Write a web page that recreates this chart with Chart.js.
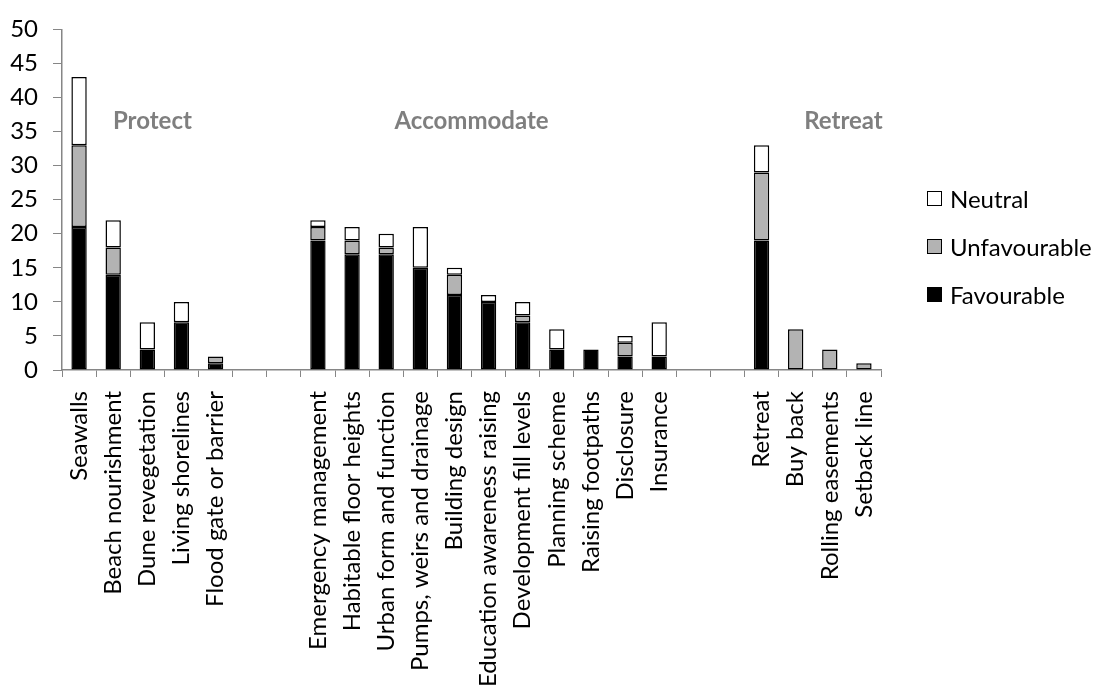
<!DOCTYPE html>
<html>
<head>
<meta charset="utf-8">
<script src="https://cdn.jsdelivr.net/npm/chart.js@4.4.0/dist/chart.umd.min.js"></script>
<style>
  body { margin: 0; background: #fff; }
  #wrap { position: relative; width: 1098px; height: 689px; overflow: hidden; }
  #legend { position: absolute; left: 927px; top: 0; font-family: Lato, sans-serif; font-size: 24px; color: #000; }
  #legend .item { position: absolute; left: 0; height: 30px; display: flex; align-items: center; white-space: nowrap; }
  #legend .box { width: 13px; height: 13px; border: 1.5px solid #000; margin-right: 8px; }
</style>
</head>
<body>
<div id="wrap">
  <canvas id="chart" width="1098" height="689"></canvas>
  <div id="legend"></div>
</div>
<script>
var labels = ['Seawalls', 'Beach nourishment', 'Dune revegetation', 'Living shorelines', 'Flood gate or barrier', '', '',
  'Emergency management', 'Habitable floor heights', 'Urban form and function', 'Pumps, weirs and drainage',
  'Building design', 'Education awareness raising', 'Development fill levels', 'Planning scheme',
  'Raising footpaths', 'Disclosure', 'Insurance', '', '',
  'Retreat', 'Buy back', 'Rolling easements', 'Setback line'];
var favourable   = [21, 14, 3, 7, 1, 0, 0, 19, 17, 17, 15, 11, 10, 7, 3, 3, 2, 2, 0, 0, 19, 0, 0, 0];
var unfavourable = [12, 4, 0, 0, 1, 0, 0, 2, 2, 1, 0, 3, 0, 1, 0, 0, 2, 0, 0, 0, 10, 6, 3, 1];
var neutral      = [10, 4, 4, 3, 0, 0, 0, 1, 2, 2, 6, 1, 1, 2, 3, 0, 1, 5, 0, 0, 4, 0, 0, 0];

// group headings, placed at a category position and a y value
var groupNames = ['Protect', 'Accommodate', 'Retreat'];
var groupPos = [2.15, 11.5, 22.4];
var groupY = 36.5;

var yTicks = [0, 5, 10, 15, 20, 25, 30, 35, 40, 45, 50];

function noZero(arr) {
  return arr.map(function (v) { return v === 0 ? null : v; });
}

var axisGrey = '#868686';

var groupLabels = {
  id: 'groupLabels',
  afterDatasetsDraw: function (chart) {
    var ctx = chart.ctx;
    var xs = chart.scales.x, ys = chart.scales.y;
    ctx.save();
    ctx.font = 'bold 24px Lato, sans-serif';
    ctx.fillStyle = '#7f7f7f';
    ctx.textAlign = 'center';
    ctx.textBaseline = 'middle';
    for (var i = 0; i < groupNames.length; i++) {
      ctx.fillText(groupNames[i], xs.getPixelForValue(groupPos[i]), ys.getPixelForValue(groupY));
    }
    ctx.restore();
  }
};

var ctx = document.getElementById('chart').getContext('2d');
var myChart = new Chart(ctx, {
  type: 'bar',
  data: {
    labels: labels,
    datasets: [
      { label: 'Favourable', data: noZero(favourable), backgroundColor: '#000000' },
      { label: 'Unfavourable', data: noZero(unfavourable), backgroundColor: '#b3b3b3' },
      { label: 'Neutral', data: noZero(neutral), backgroundColor: '#ffffff' }
    ]
  },
  options: {
    responsive: false,
    animation: false,
    layout: { padding: { top: 28, right: 217, bottom: 0, left: 0 } },
    datasets: {
      bar: {
        borderColor: '#000000',
        borderWidth: 1.5,
        borderSkipped: false,
        barPercentage: 0.45,
        categoryPercentage: 1
      }
    },
    plugins: {
      legend: { display: false },
      tooltip: { enabled: false }
    },
    scales: {
      x: {
        stacked: true,
        grid: { drawOnChartArea: false, tickLength: 7, color: axisGrey, offset: true },
        border: { color: axisGrey, width: 1.5 },
        ticks: {
          autoSkip: false,
          maxRotation: 90,
          minRotation: 90,
          padding: 14,
          color: '#000',
          font: { family: 'Lato', size: 24 }
        },
        afterFit: function (s) { s.height = 319; }
      },
      y: {
        stacked: true,
        min: 0,
        max: 50,
        afterBuildTicks: function (s) { s.ticks = yTicks.map(function (v) { return { value: v }; }); },
        grid: { drawOnChartArea: false, tickLength: 9, color: axisGrey },
        border: { color: axisGrey, width: 1.5 },
        ticks: {
          padding: 15,
          color: '#000',
          font: { family: 'Lato', size: 24 }
        },
        afterFit: function (s) { s.width = 62; }
      }
    }
  },
  plugins: [groupLabels]
});

// legend in the order Neutral, Unfavourable, Favourable
var legendTops = [183, 231, 279];
var legendEl = document.getElementById('legend');
myChart.data.datasets.slice().reverse().forEach(function (ds, i) {
  var item = document.createElement('div');
  item.className = 'item';
  item.style.top = legendTops[i] + 'px';
  var box = document.createElement('span');
  box.className = 'box';
  box.style.background = ds.backgroundColor;
  var txt = document.createElement('span');
  txt.textContent = ds.label;
  item.appendChild(box);
  item.appendChild(txt);
  legendEl.appendChild(item);
});
</script>
</body>
</html>
